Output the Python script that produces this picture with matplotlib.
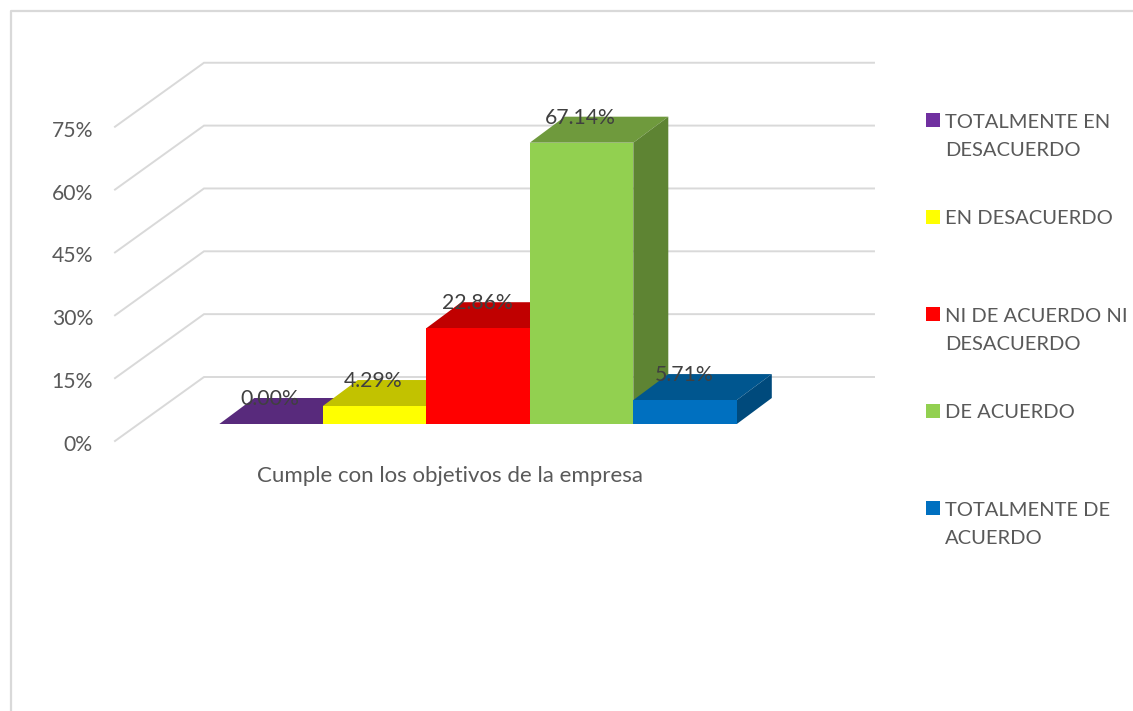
import matplotlib
matplotlib.use("Agg")
import matplotlib.pyplot as plt
from matplotlib.patches import Polygon, Rectangle
from matplotlib.transforms import Affine2D

categories = ["TOTALMENTE EN\nDESACUERDO", "EN DESACUERDO",
              "NI DE ACUERDO NI\nDESACUERDO", "DE ACUERDO",
              "TOTALMENTE DE\nACUERDO"]
values = [0.00, 4.29, 22.86, 67.14, 5.71]
value_labels = ["0.00%", "4.29%", "22.86%", "67.14%", "5.71%"]
axis_ticks = [0, 15, 30, 45, 60, 75]
axis_title = "Cumple con los objetivos de la empresa"

front_colors = ["#7030a0", "#ffff00", "#ff0000", "#92d050", "#0070c0"]
top_colors = ["#582a7c", "#c2c200", "#c00000", "#6f9a3d", "#00568f"]
side_colors = ["#4a2269", "#a3a300", "#a00000", "#5e8433", "#004a7c"]

W, H = 1133, 711
PX_PER_CAT = 103.5
PX_PER_PCT = 4.19
BAR_LEFT_PX = 219.3
BAR_BASE_PX = 424

plt.rcParams["font.family"] = ["Lato", "DejaVu Sans"]
fig = plt.figure(figsize=(W / 100, H / 100), dpi=100, facecolor="white")
ax = fig.add_axes([0, 0, 1, 1])
ax.axis("off")
ax.set_xlim(-0.5 - BAR_LEFT_PX / PX_PER_CAT, -0.5 + (W - BAR_LEFT_PX) / PX_PER_CAT)
ax.set_ylim(-(H - BAR_BASE_PX) / PX_PER_PCT, BAR_BASE_PX / PX_PER_PCT)

# Layout transform for items placed in figure pixels, origin top-left
layout = Affine2D().scale(1 / W, -1 / H).translate(0, 1) + fig.transFigure

# Outer chart frame
frame_x = [11, 11, W]
frame_y = [H, 11, 11]
ax.plot(frame_x, frame_y, color="#d9d9d9", lw=1.6, transform=layout, clip_on=False)

# Walls and gridlines: front edge, depth diagonal, then the back wall run
wall_dx = 89 / PX_PER_CAT
wall_dy = 64 / PX_PER_PCT
wall_x0 = -0.5 + (115 - BAR_LEFT_PX) / PX_PER_CAT
wall_x1 = -0.5 + (874 - BAR_LEFT_PX) / PX_PER_CAT
floor_y = -17 / PX_PER_PCT
tick_label_shift = 4 / PX_PER_PCT
for tick in axis_ticks:
    y = floor_y + tick
    ax.plot([wall_x0, wall_x0 + wall_dx, wall_x1],
            [y, y + wall_dy, y + wall_dy],
            color="#d9d9d9", lw=1.4, zorder=1, solid_joinstyle="miter")
    ax.text(wall_x0 - 22 / PX_PER_CAT, y - tick_label_shift, f"{tick}%",
            ha="right", va="center", fontsize=15.2, color="#595959")

# Bars: front face from the bar call, top and side faces offset in depth
bar_dx = 35 / PX_PER_CAT
bar_dy = 26 / PX_PER_PCT
for i, (v, fc, tc, sc) in enumerate(zip(values, front_colors, top_colors, side_colors)):
    z = 2 + i
    x0, x1 = i - 0.5, i + 0.5
    ax.add_patch(Polygon([(x0, v), (x1, v), (x1 + bar_dx, v + bar_dy), (x0 + bar_dx, v + bar_dy)],
                         closed=True, facecolor=tc, edgecolor="none", zorder=z))
    ax.add_patch(Polygon([(x1, 0), (x1 + bar_dx, bar_dy), (x1 + bar_dx, v + bar_dy), (x1, v)],
                         closed=True, facecolor=sc, edgecolor="none", zorder=z))
    ax.bar(i, v, width=1.0, color=fc, edgecolor="none", zorder=z + 0.5)

# Value labels float at the rear edge of each bar top
label_drop = 1 / PX_PER_PCT
for i, (v, label) in enumerate(zip(values, value_labels)):
    ax.text(i - 0.01, v + bar_dy - label_drop, label, ha="center", va="center", fontsize=15.3,
            color="#404040", zorder=20)

ax.text(450, 476, axis_title, transform=layout, ha="center", va="center",
        fontsize=16, color="#595959")

# Legend column with evenly spaced entries
legend_first_y = 120
legend_step = 97
line_height = 29
for i, (name, color) in enumerate(zip(categories, front_colors)):
    y = legend_first_y + i * legend_step
    ax.add_patch(Rectangle((926, y - 7), 14, 14, facecolor=color, edgecolor="none",
                           transform=layout, clip_on=False))
    for j, line in enumerate(name.split("\n")):
        ax.text(945, y + 2 + j * line_height, line, transform=layout, ha="left", va="center",
                fontsize=14.5, color="#595959")

fig.savefig("out.png", dpi=100, facecolor="white")
